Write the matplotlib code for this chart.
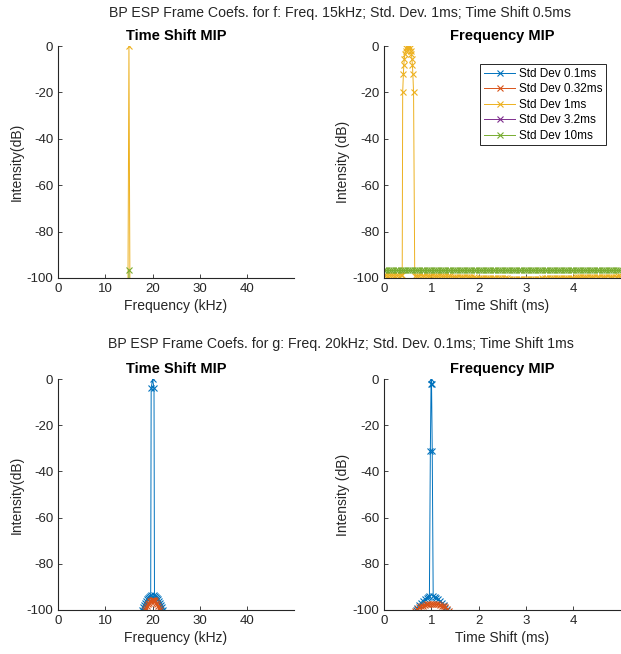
import matplotlib
matplotlib.use("Agg")
import matplotlib.pyplot as plt

plt.rcParams["font.family"] = ["Liberation Sans", "DejaVu Sans"]
plt.rcParams["axes.unicode_minus"] = False

# MATLAB default colour order, one per std dev
labels = ["Std Dev 0.1ms", "Std Dev 0.32ms", "Std Dev 1ms",
          "Std Dev 3.2ms", "Std Dev 10ms"]
colors = ["#0072BD", "#D95319", "#EDB120", "#7E2F8E", "#77AC30"]

# ---- signal f: time shift MIP (vs frequency, kHz) ----
f_ts_freq_1ms = [14.5, 15.0, 15.5]
f_ts_db_1ms = [-250.0, 0.0, -250.0]
f_ts_freq_10ms = [14.5, 15.0, 15.5]
f_ts_db_10ms = [-250.0, -96.5, -250.0]

# ---- signal f: frequency MIP (vs time shift, ms) ----
f_fr_time_1ms = [
    0.00, 0.05, 0.10, 0.15, 0.20, 0.25, 0.30, 0.35, 0.385,
    0.395, 0.41, 0.42, 0.43, 0.44, 0.455, 0.47, 0.485, 0.50,
    0.51, 0.52, 0.535, 0.55, 0.565, 0.58, 0.59, 0.60, 0.61, 0.625,
    0.65, 0.70, 0.75, 0.80, 0.85, 0.90, 0.95, 1.00,
    1.05, 1.10, 1.15, 1.20, 1.25, 1.30, 1.35, 1.40,
    1.45, 1.50, 1.55, 1.60, 1.65, 1.70, 1.75, 1.80,
    1.85, 1.90, 1.95, 2.00, 2.05, 2.10, 2.15, 2.20,
    2.25, 2.30, 2.35, 2.40, 2.45, 2.50, 2.55, 2.60,
    2.65, 2.70, 2.75, 2.80, 2.85, 2.90, 2.95, 3.00,
    3.05, 3.10, 3.15, 3.20, 3.25, 3.30, 3.35, 3.40,
    3.45, 3.50, 3.55, 3.60, 3.65, 3.70, 3.75, 3.80,
    3.85, 3.90, 3.95, 4.00, 4.05, 4.10, 4.15, 4.20,
    4.25, 4.30, 4.35, 4.40, 4.45, 4.50, 4.55, 4.60,
    4.65, 4.70, 4.75, 4.80, 4.85, 4.90, 4.95, 5.00]
f_fr_db_1ms = [
    -98.8, -98.8, -98.8, -98.8, -98.8, -98.8, -98.8, -98.8, -98.8,
    -20.0, -12.0, -8.0, -5.5, -3.5, -2.0, -1.0, -0.4, -0.1,
    0.0, -0.1, -0.4, -1.0, -2.0, -3.5, -5.5, -8.0, -12.0, -20.0,
    -99.0, -99.0, -99.0, -99.0, -99.1, -99.1, -99.1, -99.1,
    -99.2, -99.2, -99.2, -99.2, -99.3, -99.3, -99.3, -99.3,
    -99.4, -99.4, -99.5, -99.5, -99.5, -99.5, -99.6, -99.6,
    -99.7, -99.7, -99.8, -99.8, -99.9, -99.9, -99.9, -99.9,
    -100.0, -100.0, -100.1, -100.1, -100.2, -100.2, -100.2, -100.2,
    -100.3, -100.3, -100.3, -100.3, -100.4, -100.4, -100.4, -100.4,
    -100.4, -100.4, -100.3, -100.3, -100.3, -100.3, -100.2, -100.2,
    -100.2, -100.2, -100.1, -100.1, -100.0, -100.0, -99.9, -99.9,
    -99.9, -99.9, -99.8, -99.8, -99.7, -99.7, -99.7, -99.7,
    -99.6, -99.6, -99.6, -99.6, -99.5, -99.5, -99.5, -99.5,
    -99.4, -99.4, -99.4, -99.4, -99.4, -99.4, -99.3, -99.3]
f_fr_time_10ms = [
    0.00, 0.05, 0.10, 0.15, 0.20, 0.25, 0.30, 0.35, 0.40, 0.45,
    0.50, 0.55, 0.60, 0.65, 0.70, 0.75, 0.80, 0.85, 0.90, 0.95,
    1.00, 1.05, 1.10, 1.15, 1.20, 1.25, 1.30, 1.35, 1.40, 1.45,
    1.50, 1.55, 1.60, 1.65, 1.70, 1.75, 1.80, 1.85, 1.90, 1.95,
    2.00, 2.05, 2.10, 2.15, 2.20, 2.25, 2.30, 2.35, 2.40, 2.45,
    2.50, 2.55, 2.60, 2.65, 2.70, 2.75, 2.80, 2.85, 2.90, 2.95,
    3.00, 3.05, 3.10, 3.15, 3.20, 3.25, 3.30, 3.35, 3.40, 3.45,
    3.50, 3.55, 3.60, 3.65, 3.70, 3.75, 3.80, 3.85, 3.90, 3.95,
    4.00, 4.05, 4.10, 4.15, 4.20, 4.25, 4.30, 4.35, 4.40, 4.45,
    4.50, 4.55, 4.60, 4.65, 4.70, 4.75, 4.80, 4.85, 4.90, 4.95,
    5.00]
f_fr_db_10ms = [
    -96.6, -96.6, -96.6, -96.6, -96.6, -96.6, -96.6, -96.6, -96.6, -96.6,
    -96.6, -96.6, -96.6, -96.6, -96.6, -96.6, -96.6, -96.6, -96.6, -96.6,
    -96.6, -96.6, -96.6, -96.6, -96.6, -96.6, -96.6, -96.6, -96.6, -96.6,
    -96.6, -96.6, -96.6, -96.6, -96.6, -96.6, -96.6, -96.6, -96.6, -96.6,
    -96.6, -96.6, -96.6, -96.6, -96.6, -96.6, -96.6, -96.6, -96.6, -96.6,
    -96.6, -96.6, -96.6, -96.6, -96.6, -96.6, -96.6, -96.6, -96.6, -96.6,
    -96.6, -96.6, -96.6, -96.6, -96.6, -96.6, -96.6, -96.6, -96.6, -96.6,
    -96.6, -96.6, -96.6, -96.6, -96.6, -96.6, -96.6, -96.6, -96.6, -96.6,
    -96.6, -96.6, -96.6, -96.6, -96.6, -96.6, -96.6, -96.6, -96.6, -96.6,
    -96.6, -96.6, -96.6, -96.6, -96.6, -96.6, -96.6, -96.6, -96.6, -96.6,
    -96.6]

# ---- signal g: time shift MIP (vs frequency, kHz) ----
g_ts_freq_01ms = [17.8, 18.0, 18.2, 18.4, 18.6, 18.8, 19.0, 19.2, 19.4,
                  19.6, 19.7, 20.0, 20.3, 20.4, 20.6, 20.8, 21.0, 21.2,
                  21.4, 21.6, 21.8, 22.0, 22.2]
g_ts_db_01ms = [-100.0, -98.9, -97.9, -96.9, -96.1, -95.4, -94.8, -94.3,
                -93.9, -93.7, -4.0, 0.0, -4.0, -93.7, -93.9, -94.3, -94.8,
                -95.4, -96.1, -96.9, -97.9, -98.9, -100.0]
g_ts_freq_032ms = [18.4, 18.6, 18.8, 19.0, 19.2, 19.4, 19.6, 19.8, 20.0,
                   20.2, 20.4, 20.6, 20.8, 21.0, 21.2, 21.4, 21.6]
g_ts_db_032ms = [-100.0, -99.0, -98.1, -97.4, -96.8, -96.3, -96.0, -95.8,
                 -95.7, -95.8, -96.0, -96.3, -96.8, -97.4, -98.1, -99.0,
                 -100.0]

# ---- signal g: frequency MIP (vs time shift, ms) ----
g_fr_time_01ms = [0.67, 0.70, 0.74, 0.78, 0.82, 0.86, 0.90, 0.93, 0.96,
                  0.98, 0.995, 1.0, 1.005, 1.02, 1.04, 1.07, 1.10, 1.14,
                  1.18, 1.22, 1.26, 1.30, 1.33]
g_fr_db_01ms = [-100.0, -99.0, -97.8, -96.8, -96.0, -95.2, -94.7, -94.3,
                -94.1, -31.0, -2.0, 0.0, -2.0, -31.0, -94.1, -94.3, -94.7,
                -95.2, -96.0, -96.8, -97.8, -99.0, -100.0]
g_fr_time_032ms = [0.66, 0.70, 0.74, 0.78, 0.82, 0.86, 0.90, 0.94, 0.98,
                   1.02, 1.06, 1.10, 1.14, 1.18, 1.22, 1.26, 1.30, 1.34,
                   1.38]
g_fr_db_032ms = [-100.3, -99.5, -98.9, -98.4, -98.1, -97.8, -97.6, -97.5,
                 -97.4, -97.4, -97.4, -97.5, -97.6, -97.8, -98.1, -98.4,
                 -98.9, -99.5, -100.3]

fig = plt.figure(figsize=(6.21, 6.54), dpi=100)
W, H = 621.0, 654.0


def make_axes(left, top, right, bottom):
    return fig.add_axes([left / W, 1 - bottom / H, (right - left) / W,
                         (bottom - top) / H])


def style(ax, xmax, xticks, xlabel, ylabel, title):
    ax.set_xlim(0, xmax)
    ax.set_ylim(-100, 0)
    ax.set_xticks(xticks)
    ax.set_yticks([-100, -80, -60, -40, -20, 0])
    for s in ["top", "right"]:
        ax.spines[s].set_visible(False)
    for s in ["left", "bottom"]:
        ax.spines[s].set_color("#262626")
        ax.spines[s].set_linewidth(0.8)
    ax.tick_params(direction="in", length=3, width=0.6, colors="#262626",
                   labelsize=9.5)
    ax.set_xlabel(xlabel, fontsize=10, color="#262626", labelpad=3)
    ax.set_ylabel(ylabel, fontsize=10, color="#262626", labelpad=2)
    ax.set_title(title, fontsize=10.5, fontweight="bold", pad=4)


kw = dict(marker="x", markersize=4, linewidth=0.7, markeredgewidth=0.8)

# top left
ax1 = make_axes(58, 46, 294, 278)
ax1.plot(f_ts_freq_1ms, f_ts_db_1ms, color=colors[2], **kw)
ax1.plot(f_ts_freq_10ms, f_ts_db_10ms, color=colors[4], **kw)
style(ax1, 49.9, [0, 10, 20, 30, 40], "Frequency (kHz)", "Intensity(dB)",
      "Time Shift MIP")

# top right
ax2 = make_axes(384, 46, 620, 278)
ax2.plot([], [], color=colors[0], label=labels[0], **kw)
ax2.plot([], [], color=colors[1], label=labels[1], **kw)
ax2.plot(f_fr_time_1ms, f_fr_db_1ms, color=colors[2], label=labels[2], **kw)
ax2.plot([], [], color=colors[3], label=labels[3], **kw)
ax2.plot(f_fr_time_10ms, f_fr_db_10ms, color=colors[4], label=labels[4],
         **kw)
style(ax2, 4.99, [0, 1, 2, 3, 4], "Time Shift (ms)", "Intensity (dB)",
      "Frequency MIP")
leg = ax2.legend(loc="upper right", bbox_to_anchor=(0.941, 0.922),
                 borderaxespad=0, fontsize=8.5, handlelength=2.7,
                 labelspacing=0.3, handletextpad=0.3, borderpad=0.3,
                 fancybox=False, framealpha=1, edgecolor="#262626")
leg.get_frame().set_linewidth(0.7)

# bottom left
ax3 = make_axes(58, 379, 294, 610)
ax3.plot(g_ts_freq_01ms, g_ts_db_01ms, color=colors[0], **kw)
ax3.plot(g_ts_freq_032ms, g_ts_db_032ms, color=colors[1], **kw)
style(ax3, 49.9, [0, 10, 20, 30, 40], "Frequency (kHz)", "Intensity(dB)",
      "Time Shift MIP")

# bottom right
ax4 = make_axes(384, 379, 620, 610)
ax4.plot(g_fr_time_01ms, g_fr_db_01ms, color=colors[0], **kw)
ax4.plot(g_fr_time_032ms, g_fr_db_032ms, color=colors[1], **kw)
style(ax4, 4.99, [0, 1, 2, 3, 4], "Time Shift (ms)", "Intensity (dB)",
      "Frequency MIP")

fig.text(340 / W, 1 - 13 / H,
         "BP ESP Frame Coefs. for f: Freq. 15kHz; Std. Dev. 1ms; "
         "Time Shift 0.5ms", ha="center", va="center", fontsize=10.2,
         color="#262626")
fig.text(341 / W, 1 - 344 / H,
         "BP ESP Frame Coefs. for g: Freq. 20kHz; Std. Dev. 0.1ms; "
         "Time Shift 1ms", ha="center", va="center", fontsize=10.2,
         color="#262626")

fig.savefig("out.png", dpi=100)
